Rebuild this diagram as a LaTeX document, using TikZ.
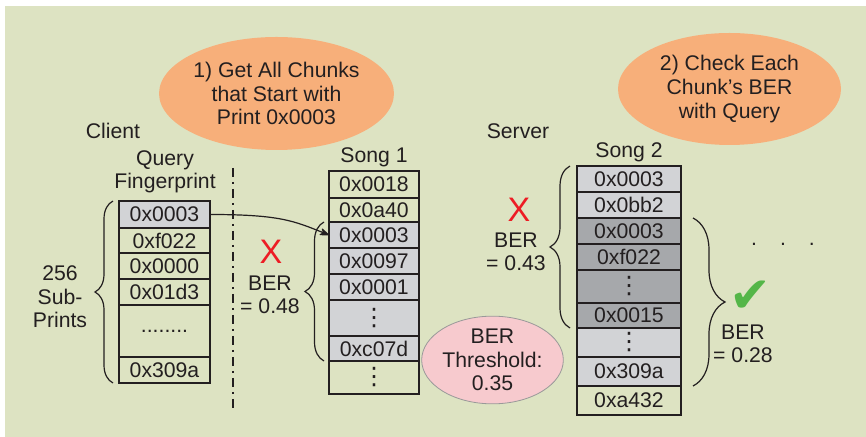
\documentclass[tikz,border=0pt]{standalone}
\usepackage{fontspec}
\setmainfont{Liberation Sans}
\newfontfamily\symfont{DejaVu Sans}
\usetikzlibrary{arrows.meta, positioning, shapes.geometric, decorations.pathreplacing}
\definecolor{bggreen}{RGB}{221,227,194}
\definecolor{ink}{RGB}{35,31,32}
\definecolor{lightrow}{RGB}{210,211,214}
\definecolor{darkrow}{RGB}{166,168,171}
\definecolor{bubbleorange}{RGB}{247,175,122}
\definecolor{bubblepink}{RGB}{247,202,206}
\definecolor{crossred}{RGB}{237,28,36}
\definecolor{tickgreen}{RGB}{84,182,72}
\newcommand*{\vdts}{{\symfont\fontsize{12}{12}\selectfont ⋮}}

\begin{document}
\begin{tikzpicture}[x=0.5pt, y=-0.5pt, node distance=0pt, >={Stealth[round]},
      font=\fontsize{10.6}{11.8}\selectfont, text=ink,
      cell/.style={draw=ink, line width=0.6pt, inner sep=0pt, outer sep=0pt},
      light/.style={fill=lightrow}, dark/.style={fill=darkrow},
      hl/.style={line width=1.1pt},
      bubble/.style={ellipse, fill=bubbleorange, align=center, inner sep=0pt},
      lbl/.style={align=center, inner sep=0pt},
      brace/.style={decorate, decoration={brace, amplitude=#1}, draw=ink, line width=0.6pt},
      cross/.style={text=crossred, inner sep=0pt, font=\fontsize{17}{17}\selectfont}]
      \useasboundingbox (0,0) rectangle (866,437);
      \fill[bggreen] (5,6) rectangle (866,437);

      % steps
      \node[bubble, minimum width=106.5pt, minimum height=56.5pt] (step1) at (276.5,93.5)
        {1) Get All Chunks\\that Start with\\Print 0x0003};
      \node[bubble, minimum width=111.5pt, minimum height=56pt] (step2) at (729.5,89)
        {2) Check Each\\Chunk's BER\\with Query};
      \node[ellipse, draw=black!40, fill=bubblepink, align=center, inner sep=0pt,
        minimum width=64.5pt, minimum height=39pt] (thresh) at (492.5,360)
        {BER\\Threshold:\\0.35};

      \node[lbl] (client) at (113,131) {Client};
      \node[lbl] (server) at (518,131) {Server};
      \node[lbl] (qlabel) at (165,172) {Query\\Fingerprint};
      \node[lbl] (s1label) at (374,157) {Song 1};
      \node[lbl] (s2label) at (629,152) {Song 2};

      % query fingerprint
      \begin{scope}[every node/.append style={minimum width=45.5pt}]
      \node[cell, light, hl, minimum height=13.5pt, anchor=north] (q1) at (164.5,201) {0x0003};
      \node[cell, minimum height=12.5pt, below=of q1] (q2) {0xf022};
      \node[cell, minimum height=13pt, below=of q2] (q3) {0x0000};
      \node[cell, minimum height=13pt, below=of q3] (q4) {0x01d3};
      \node[cell, minimum height=26pt, below=of q4] (q5) {........};
      \node[cell, minimum height=13pt, below=of q5] (q6) {0x309a};
      \end{scope}

      % song 1
      \begin{scope}[every node/.append style={minimum width=45pt}]
      \node[cell, minimum height=13.5pt, anchor=north] (s1r1) at (374,171) {0x0018};
      \node[cell, minimum height=12pt, below=of s1r1] (s1r2) {0x0a40};
      \node[cell, light, minimum height=13pt, below=of s1r2] (s1r3) {0x0003};
      \node[cell, light, minimum height=13pt, below=of s1r3] (s1r4) {0x0097};
      \node[cell, light, minimum height=13pt, below=of s1r4] (s1r5) {0x0001};
      \node[cell, light, minimum height=18pt, below=of s1r5] (s1r6) {\vdts};
      \node[cell, light, minimum height=12.5pt, below=of s1r6] (s1r7) {0xc07d};
      \node[cell, minimum height=16.5pt, below=of s1r7] (s1r8) {\vdts};
      \end{scope}
      \draw[hl, draw=ink] (s1r3.north west) rectangle (s1r7.south east);

      % song 2
      \begin{scope}[every node/.append style={minimum width=52pt}]
      \node[cell, light, minimum height=13pt, anchor=north] (s2r1) at (629,166) {0x0003};
      \node[cell, light, minimum height=13pt, below=of s2r1] (s2r2) {0x0bb2};
      \node[cell, dark, minimum height=13pt, below=of s2r2] (s2r3) {0x0003};
      \node[cell, dark, minimum height=13pt, below=of s2r3] (s2r4) {0xf022};
      \node[cell, dark, minimum height=16.5pt, below=of s2r4] (s2r5) {\vdts};
      \node[cell, dark, minimum height=12.5pt, below=of s2r5] (s2r6) {0x0015};
      \node[cell, light, minimum height=14.5pt, below=of s2r6] (s2r7) {\vdts};
      \node[cell, light, minimum height=14.5pt, below=of s2r7] (s2r8) {0x309a};
      \node[cell, minimum height=14.5pt, below=of s2r8] (s2r9) {0xa432};
      \end{scope}
      \draw[hl, draw=ink] (s2r1.north west) rectangle (s2r8.south east);
      \draw[hl, draw=ink] (s2r3.north west) rectangle (s2r6.south east);

      % client / server split
      \coordinate (divtop) at (233,168);
      \coordinate (divbot) at (233,408);
      \draw[ink, line width=1.1pt, dash pattern=on 4.5pt off 2.5pt on 1pt off 2.5pt] (divtop) -- (divbot);

      \draw[->, ink, line width=0.6pt] (q1.east) .. controls +(70,0) and +(-35,-14) .. (s1r3.west);

      % braces
      \draw[brace=9pt] ([xshift=-3pt]q6.south west) -- ([xshift=-3pt]q1.north west);
      \draw[brace=9.5pt] ([xshift=-2.5pt]s1r7.south west) -- ([xshift=-2.5pt]s1r3.north west);
      \draw[brace=10pt] ([xshift=-3.5pt]s2r6.south west) -- ([xshift=-3.5pt]s2r1.north west);
      \draw[brace=16pt] ([xshift=6pt]s2r3.north east) -- ([xshift=6pt]s2r8.south east);

      \node[lbl] (subprints) at (60,297) {256\\Sub-\\Prints};

      % results
      \node[cross] (x1) at (271,252) {X};
      \node[lbl] (ber1) at (270,295) {BER\\= 0.48};
      \node[cross] (x2) at (519,210) {X};
      \node[lbl] (ber2) at (516,252) {BER\\= 0.43};
      \node[inner sep=0pt, text=tickgreen, font=\symfont\fontsize{25}{25}\selectfont] (tick) at (750,297) {✔};
      \node[lbl] (ber3) at (743,344) {BER\\= 0.28};
      \node[lbl] (more) at (783,244) {.\hspace{11.5pt}.\hspace{11.5pt}.};
    \end{tikzpicture}
\end{document}
